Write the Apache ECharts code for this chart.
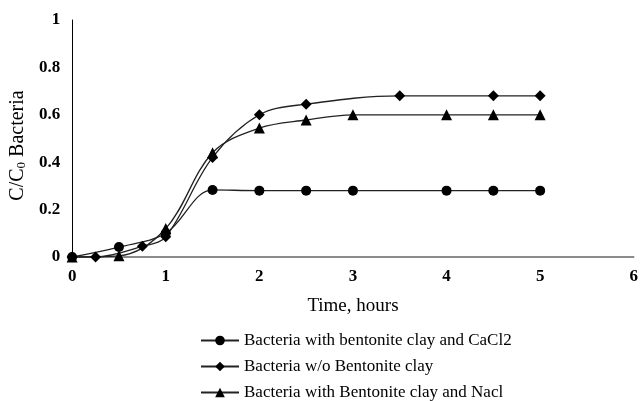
<!DOCTYPE html>
<html>
<head>
<meta charset="utf-8">
<script src="https://cdn.jsdelivr.net/npm/echarts@6/dist/echarts.min.js"></script>
<style>
  html, body { margin: 0; padding: 0; background: #fff; }
  #chart { width: 641px; height: 401px; }
</style>
</head>
<body>
<div id="chart"></div>
<script>
// time (hours) and C/C0 readings per series
const cacl2Time = [0, 0.5, 1, 1.5, 2, 2.5, 3, 4, 4.5, 5]
const cacl2Vals = [0, 0.042, 0.1, 0.283, 0.28, 0.28, 0.28, 0.28, 0.28, 0.28]

const noClayTime = [0, 0.25, 0.75, 1, 1.5, 2, 2.5, 3.5, 4.5, 5]
const noClayVals = [0, 0, 0.045, 0.085, 0.42, 0.6, 0.645, 0.68, 0.68, 0.68]

const naclTime = [0, 0.5, 1, 1.5, 2, 2.5, 3, 4, 4.5, 5]
const naclVals = [0, 0.005, 0.12, 0.44, 0.544, 0.578, 0.6, 0.6, 0.6, 0.6]

const seriesNames = [
  'Bacteria with bentonite clay and CaCl2',
  'Bacteria w/o Bentonite clay',
  'Bacteria with Bentonite clay and Nacl'
]

const font = '"Liberation Serif", "Times New Roman", serif'
const chart = echarts.init(document.getElementById('chart'))

function pairs(xs, ys) {
  return xs.map((x, i) => [x, ys[i]])
}

function makeSeries(name, data, symbol, size) {
  return {
    name,
    type: 'line',
    smooth: 0.35,
    data,
    symbol,
    symbolSize: size,
    lineStyle: { color: '#222', width: 1.3 },
    itemStyle: { color: '#000' },
    emphasis: { disabled: true }
  }
}

chart.setOption({
  animation: false,
  textStyle: { fontFamily: font },
  grid: { left: 71, right: 4, top: 20, bottom: 144 },
  legend: {
    orient: 'vertical',
    left: 200,
    top: 332,
    height: 100,
    padding: 0,
    itemGap: 9,
    itemWidth: 38,
    itemHeight: 12,
    textStyle: { fontFamily: font, fontSize: 17, color: '#000' },
    data: seriesNames
  },
  xAxis: {
    type: 'value',
    min: 0,
    max: 6,
    interval: 1,
    name: 'Time, hours',
    nameLocation: 'middle',
    nameGap: 40,
    nameTextStyle: { fontFamily: font, fontSize: 19, color: '#000' },
    axisLine: { lineStyle: { color: '#666', width: 1.5 } },
    axisTick: { show: false },
    splitLine: { show: false },
    axisLabel: { fontFamily: font, fontSize: 17, fontWeight: 'bold', color: '#000', margin: 11 }
  },
  yAxis: {
    type: 'value',
    min: 0,
    max: 1,
    interval: 0.2,
    name: '{a|C/C}{s|0}{a| Bacteria}',
    nameLocation: 'middle',
    nameGap: 43,
    nameTextStyle: {
      padding: [0, 14, 0, 0],
      rich: {
        a: { fontFamily: font, fontSize: 20, color: '#000' },
        s: { fontFamily: font, fontSize: 13, color: '#000', verticalAlign: 'bottom', padding: [7, 0, 0, 0] }
      }
    },
    axisLine: { show: true, lineStyle: { color: '#000', width: 1 } },
    axisTick: { show: false },
    splitLine: { show: false },
    axisLabel: { fontFamily: font, fontSize: 17, fontWeight: 'bold', color: '#000', margin: 12 }
  },
  series: [
    makeSeries(seriesNames[0], pairs(cacl2Time, cacl2Vals), 'circle', 10),
    makeSeries(seriesNames[1], pairs(noClayTime, noClayVals), 'diamond', 11),
    makeSeries(seriesNames[2], pairs(naclTime, naclVals), 'triangle', 11)
  ]
})
</script>
</body>
</html>
